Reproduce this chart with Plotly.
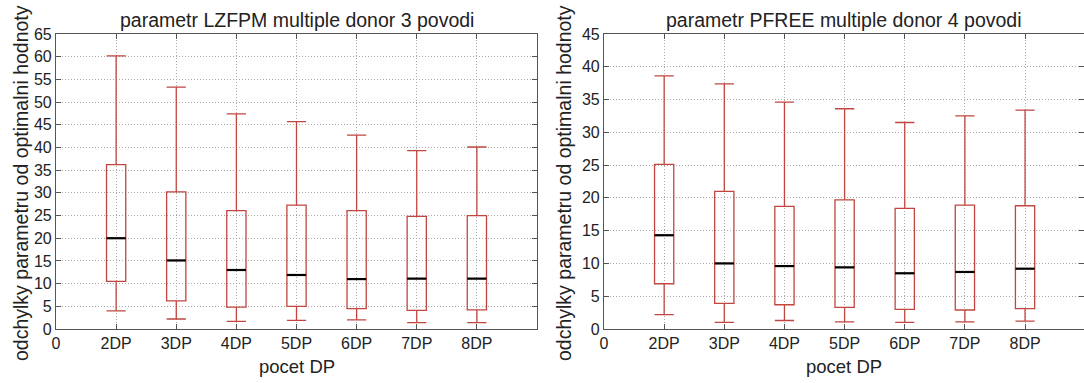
import plotly.graph_objects as go

categories = ["2DP", "3DP", "4DP", "5DP", "6DP", "7DP", "8DP"]
positions = [1, 2, 3, 4, 5, 6, 7]

# LZFPM, 3 povodi
lz_low = [4.0, 2.2, 1.7, 1.9, 2.0, 1.4, 1.4]
lz_q1 = [10.5, 6.2, 4.8, 5.0, 4.5, 4.1, 4.2]
lz_med = [20.0, 15.1, 13.0, 11.9, 11.0, 11.1, 11.1]
lz_q3 = [36.2, 30.2, 26.1, 27.3, 26.1, 24.8, 25.0]
lz_high = [60.2, 53.3, 47.4, 45.7, 42.7, 39.3, 40.1]

# PFREE, 4 povodi
pf_low = [2.2, 1.0, 1.3, 1.1, 1.0, 1.1, 1.2]
pf_q1 = [6.9, 3.9, 3.7, 3.3, 3.0, 2.9, 3.1]
pf_med = [14.3, 10.0, 9.6, 9.4, 8.5, 8.7, 9.2]
pf_q3 = [25.1, 21.0, 18.7, 19.7, 18.4, 18.9, 18.8]
pf_high = [38.6, 37.4, 34.6, 33.6, 31.5, 32.5, 33.4]

titles = ["parametr LZFPM multiple donor 3 povodi", "parametr PFREE multiple donor 4 povodi"]
y_title = "odchylky parametru od optimalni hodnoty"
x_title = "pocet DP"

RED = "#c0463f"
FONT = "Liberation Sans, Arial, sans-serif"
BOX_W = 0.32

W, H = 1084, 383
ML, MR, MT, MB = 56, 0, 34, 54
pw = W - ML - MR
left_dom = [0, (537 - ML) / pw]
right_dom = [(604 - ML) / pw, 1.0]

fig = go.Figure()

def add_panel(xa, ya, low, q1, med, q3, high):
    fig.add_trace(go.Box(
        x=positions, q1=q1, median=med, q3=q3,
        lowerfence=low, upperfence=high,
        width=BOX_W, whiskerwidth=1.0,
        line=dict(color=RED, width=1.3),
        fillcolor="rgba(0,0,0,0)",
        boxpoints=False, showlegend=False,
        xaxis=xa, yaxis=ya, hoverinfo="skip",
    ))
    mx, my = [], []
    for p, m in zip(positions, med):
        mx += [p - BOX_W / 2, p + BOX_W / 2, None]
        my += [m, m, None]
    fig.add_trace(go.Scatter(
        x=mx, y=my, mode="lines",
        line=dict(color="black", width=2.2),
        showlegend=False, xaxis=xa, yaxis=ya, hoverinfo="skip",
    ))

add_panel("x", "y", lz_low, lz_q1, lz_med, lz_q3, lz_high)
add_panel("x2", "y2", pf_low, pf_q1, pf_med, pf_q3, pf_high)

TICKFONT = dict(family=FONT, size=16, color="#222")
xcommon = dict(
    tickvals=[0] + positions, ticktext=["0"] + categories,
    showgrid=True, gridcolor="#a8a8a8", griddash="1px,2px", gridwidth=1,
    ticks="inside", ticklen=5, tickcolor="#555", mirror="ticks",
    showline=True, linecolor="#555", linewidth=1.2,
    zeroline=False, tickfont=TICKFONT,
)
ycommon = dict(
    showgrid=True, gridcolor="#a8a8a8", griddash="1px,2px", gridwidth=1,
    ticks="inside", ticklen=5, tickcolor="#555", mirror="ticks",
    showline=True, linecolor="#555", linewidth=1.2,
    zeroline=False, tickfont=TICKFONT,
)

fig.update_layout(
    width=W, height=H,
    margin=dict(l=ML, r=MR, t=MT, b=MB),
    paper_bgcolor="white", plot_bgcolor="white",
    xaxis=dict(domain=left_dom, range=[0, 8], anchor="y", **xcommon),
    yaxis=dict(domain=[0, 1], range=[0, 65], dtick=5, anchor="x", **ycommon),
    xaxis2=dict(domain=right_dom, range=[0, 7.98], anchor="y2", **xcommon),
    yaxis2=dict(domain=[0, 1], range=[0, 45], dtick=5, anchor="x2", **ycommon),
    font=dict(family=FONT, color="#222"),
)

centers = [(left_dom[0] + left_dom[1]) / 2, (right_dom[0] + right_dom[1]) / 2]
for i, c in enumerate(centers):
    fig.add_annotation(text=titles[i], xref="paper", yref="paper", x=c, y=1.0,
                       yshift=1, xanchor="center", yanchor="bottom", showarrow=False,
                       font=dict(family=FONT, size=19.5, color="#222"))
    fig.add_annotation(text=x_title, xref="paper", yref="paper", x=c, y=0,
                       yshift=-25, xanchor="center", yanchor="top", showarrow=False,
                       font=dict(family=FONT, size=18.5, color="#222"))
ytitle_x = [21, 564]
for xp in ytitle_x:
    fig.add_annotation(text=y_title, xref="paper", yref="paper",
                       x=(xp - ML) / pw, y=0.5, yshift=-1.5,
                       xanchor="center", yanchor="middle", textangle=-90, showarrow=False,
                       font=dict(family=FONT, size=19.5, color="#222"))

fig.write_html("out.html")
